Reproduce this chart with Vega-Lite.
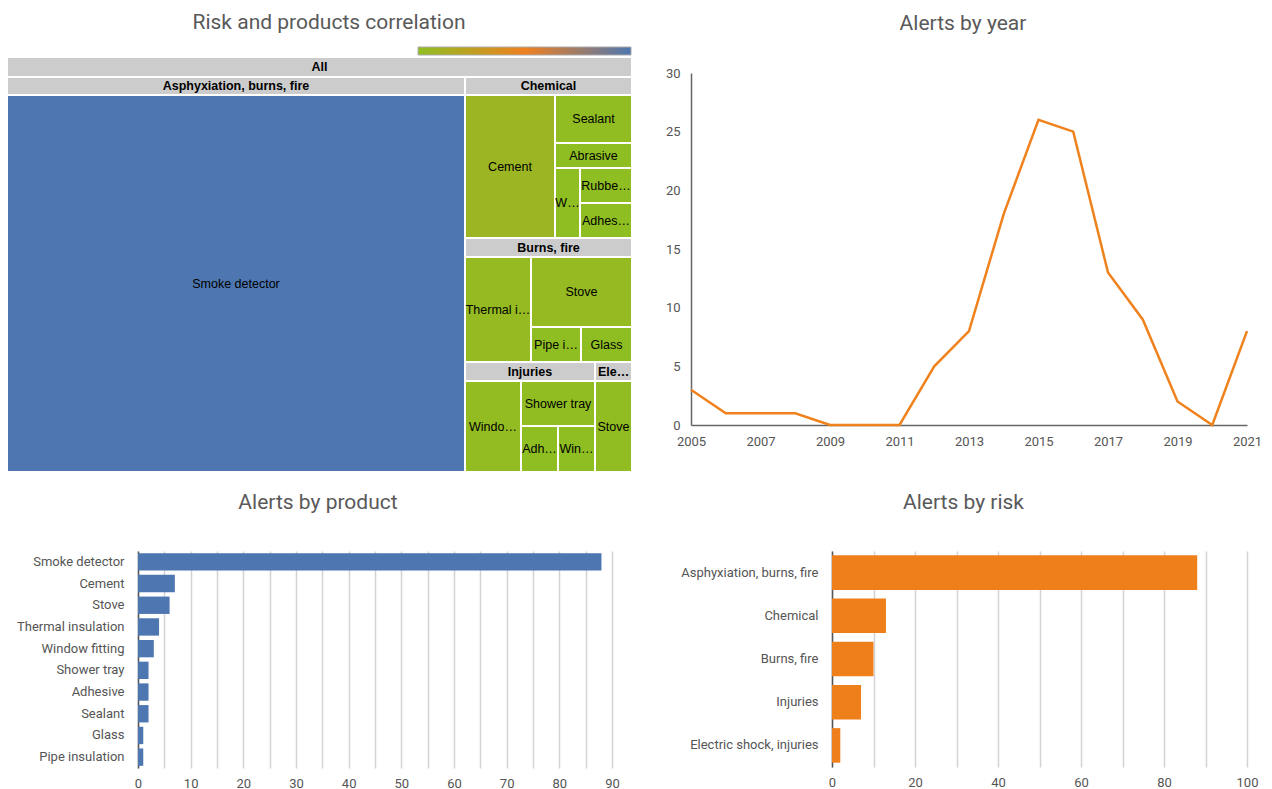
{
  "$schema": "https://vega.github.io/schema/vega-lite/v6.json",
  "background": "white",
  "padding": {"left": 6, "top": 12, "right": 0, "bottom": 0},
  "autosize": {"type": "pad"},
  "config": {
    "view": {"stroke": null},
    "font": "Roboto",
    "title": {"font": "Roboto", "fontSize": 21, "fontWeight": "normal", "color": "#595959", "anchor": "middle"},
    "axis": {"labelFont": "Roboto", "labelFontSize": 13, "labelColor": "#555555", "ticks": false, "title": null, "domainColor": "#666666", "domainWidth": 1.5, "gridColor": "#d3d3d3", "labelFlush": false, "labelOverlap": false}
  },
  "datasets": {
    "treemap": [
      {"kind": "header", "label": "All", "risk": "All", "product": "", "alerts": 120, "x0": 0, "x1": 625, "y0": 0, "y1": 20},
      {"kind": "header", "label": "Asphyxiation, burns, fire", "risk": "Asphyxiation, burns, fire", "product": "", "alerts": 88, "x0": 0, "x1": 458, "y0": 20, "y1": 38},
      {"kind": "leaf", "label": "Smoke detector", "risk": "Asphyxiation, burns, fire", "product": "Smoke detector", "alerts": 88, "x0": 0, "x1": 458, "y0": 38, "y1": 415},
      {"kind": "header", "label": "Chemical", "risk": "Chemical", "product": "", "alerts": 13, "x0": 458, "x1": 625, "y0": 20, "y1": 38},
      {"kind": "leaf", "label": "Cement", "risk": "Chemical", "product": "Cement", "alerts": 7, "x0": 458, "x1": 548, "y0": 38, "y1": 181},
      {"kind": "leaf", "label": "Sealant", "risk": "Chemical", "product": "Sealant", "alerts": 2, "x0": 548, "x1": 625, "y0": 38, "y1": 86},
      {"kind": "leaf", "label": "Abrasive", "risk": "Chemical", "product": "Abrasive", "alerts": 1, "x0": 548, "x1": 625, "y0": 86, "y1": 111},
      {"kind": "leaf", "label": "W…", "risk": "Chemical", "product": "Window fitting", "alerts": 1, "x0": 548, "x1": 573, "y0": 111, "y1": 181},
      {"kind": "leaf", "label": "Rubbe…", "risk": "Chemical", "product": "Rubber", "alerts": 1, "x0": 573, "x1": 625, "y0": 111, "y1": 146},
      {"kind": "leaf", "label": "Adhes…", "risk": "Chemical", "product": "Adhesive", "alerts": 1, "x0": 573, "x1": 625, "y0": 146, "y1": 181},
      {"kind": "header", "label": "Burns, fire", "risk": "Burns, fire", "product": "", "alerts": 10, "x0": 458, "x1": 625, "y0": 181, "y1": 200},
      {"kind": "leaf", "label": "Thermal i…", "risk": "Burns, fire", "product": "Thermal insulation", "alerts": 4, "x0": 458, "x1": 524, "y0": 200, "y1": 305},
      {"kind": "leaf", "label": "Stove", "risk": "Burns, fire", "product": "Stove", "alerts": 4, "x0": 524, "x1": 625, "y0": 200, "y1": 270},
      {"kind": "leaf", "label": "Pipe i…", "risk": "Burns, fire", "product": "Pipe insulation", "alerts": 1, "x0": 524, "x1": 574, "y0": 270, "y1": 305},
      {"kind": "leaf", "label": "Glass", "risk": "Burns, fire", "product": "Glass", "alerts": 1, "x0": 574, "x1": 625, "y0": 270, "y1": 305},
      {"kind": "header", "label": "Injuries", "risk": "Injuries", "product": "", "alerts": 7, "x0": 458, "x1": 588, "y0": 305, "y1": 324},
      {"kind": "header", "label": "Ele…", "risk": "Electric shock, injuries", "product": "", "alerts": 2, "x0": 588, "x1": 625, "y0": 305, "y1": 324},
      {"kind": "leaf", "label": "Windo…", "risk": "Injuries", "product": "Window fitting", "alerts": 3, "x0": 458, "x1": 514, "y0": 324, "y1": 415},
      {"kind": "leaf", "label": "Shower tray", "risk": "Injuries", "product": "Shower tray", "alerts": 2, "x0": 514, "x1": 588, "y0": 324, "y1": 369},
      {"kind": "leaf", "label": "Adh…", "risk": "Injuries", "product": "Adhesive", "alerts": 1, "x0": 514, "x1": 551, "y0": 369, "y1": 415},
      {"kind": "leaf", "label": "Win…", "risk": "Injuries", "product": "Window", "alerts": 1, "x0": 551, "x1": 588, "y0": 369, "y1": 415},
      {"kind": "leaf", "label": "Stove", "risk": "Electric shock, injuries", "product": "Stove", "alerts": 2, "x0": 588, "x1": 625, "y0": 324, "y1": 415}
    ],
    "years": [
      {"year": 2005, "alerts": 3}, {"year": 2006, "alerts": 1}, {"year": 2007, "alerts": 1},
      {"year": 2008, "alerts": 1}, {"year": 2009, "alerts": 0}, {"year": 2010, "alerts": 0},
      {"year": 2011, "alerts": 0}, {"year": 2012, "alerts": 5}, {"year": 2013, "alerts": 8},
      {"year": 2014, "alerts": 18}, {"year": 2015, "alerts": 26}, {"year": 2016, "alerts": 25},
      {"year": 2017, "alerts": 13}, {"year": 2018, "alerts": 9}, {"year": 2019, "alerts": 2},
      {"year": 2020, "alerts": 0}, {"year": 2021, "alerts": 8}
    ],
    "products": [
      {"product": "Smoke detector", "alerts": 88},
      {"product": "Cement", "alerts": 7},
      {"product": "Stove", "alerts": 6},
      {"product": "Thermal insulation", "alerts": 4},
      {"product": "Window fitting", "alerts": 3},
      {"product": "Shower tray", "alerts": 2},
      {"product": "Adhesive", "alerts": 2},
      {"product": "Sealant", "alerts": 2},
      {"product": "Glass", "alerts": 1},
      {"product": "Pipe insulation", "alerts": 1}
    ],
    "risks": [
      {"risk": "Asphyxiation, burns, fire", "alerts": 88},
      {"risk": "Chemical", "alerts": 13},
      {"risk": "Burns, fire", "alerts": 10},
      {"risk": "Injuries", "alerts": 7},
      {"risk": "Electric shock, injuries", "alerts": 2}
    ]
  },
  "spacing": 19,
  "vconcat": [
    {
      "spacing": 32,
      "hconcat": [
        {
          "width": 494,
          "height": 399,
          "title": {"text": "Risk and products correlation", "dx": -56, "offset": 23},
          "data": {"name": "treemap"},
          "layer": [
            {
              "transform": [{"filter": "datum.kind === 'header'"}],
              "mark": {"type": "rect", "fill": "#cccccc", "stroke": "white", "strokeWidth": 2},
              "encoding": {
                "x": {"field": "x0", "type": "quantitative", "scale": {"domain": [0, 625], "range": [-131, 494], "nice": false, "zero": false}, "axis": null},
                "x2": {"field": "x1"},
                "y": {"field": "y0", "type": "quantitative", "scale": {"domain": [0, 415], "range": [-16, 399], "nice": false, "zero": false}, "axis": null},
                "y2": {"field": "y1"}
              }
            },
            {
              "transform": [{"filter": "datum.kind === 'leaf'"}],
              "mark": {"type": "rect", "stroke": "white", "strokeWidth": 2},
              "encoding": {
                "x": {"field": "x0", "type": "quantitative", "scale": {"domain": [0, 625], "range": [-131, 494], "nice": false, "zero": false}, "axis": null},
                "x2": {"field": "x1"},
                "y": {"field": "y0", "type": "quantitative", "scale": {"domain": [0, 415], "range": [-16, 399], "nice": false, "zero": false}, "axis": null},
                "y2": {"field": "y1"},
                "color": {
                  "field": "alerts", "type": "quantitative",
                  "scale": {"domain": [1, 44.5, 88], "range": ["#8fbe22", "#ef8020", "#4e77b1"], "interpolate": "rgb"},
                  "legend": {"orient": "none", "legendX": 280, "legendY": -26, "direction": "horizontal", "gradientLength": 213, "gradientThickness": 8, "labelExpr": "''", "labelOpacity": 0, "labelFontSize": 1, "title": null, "gradientStrokeColor": "#aaaaaa", "gradientStrokeWidth": 1}
                }
              }
            },
            {
              "transform": [
                {"filter": "datum.kind === 'header'"},
                {"calculate": "(datum.x0 + datum.x1) / 2", "as": "cx"},
                {"calculate": "(datum.y0 + datum.y1) / 2", "as": "cy"}
              ],
              "mark": {"type": "text", "font": "Liberation Sans", "fontSize": 12.5, "fontWeight": "bold", "color": "#000000", "baseline": "middle", "align": "center"},
              "encoding": {
                "x": {"field": "cx", "type": "quantitative", "scale": {"domain": [0, 625], "range": [-131, 494], "nice": false, "zero": false}, "axis": null},
                "y": {"field": "cy", "type": "quantitative", "scale": {"domain": [0, 415], "range": [-16, 399], "nice": false, "zero": false}, "axis": null},
                "text": {"field": "label"}
              }
            },
            {
              "transform": [
                {"filter": "datum.kind === 'leaf'"},
                {"calculate": "(datum.x0 + datum.x1) / 2", "as": "cx"},
                {"calculate": "(datum.y0 + datum.y1) / 2", "as": "cy"}
              ],
              "mark": {"type": "text", "font": "Liberation Sans", "fontSize": 12.5, "color": "#000000", "baseline": "middle", "align": "center"},
              "encoding": {
                "x": {"field": "cx", "type": "quantitative", "scale": {"domain": [0, 625], "range": [-131, 494], "nice": false, "zero": false}, "axis": null},
                "y": {"field": "cy", "type": "quantitative", "scale": {"domain": [0, 415], "range": [-16, 399], "nice": false, "zero": false}, "axis": null},
                "text": {"field": "label"}
              }
            }
          ]
        },
        {
          "width": 556,
          "height": 352,
          "title": {"text": "Alerts by year", "dx": -6, "offset": 33},
          "data": {"name": "years"},
          "mark": {"type": "line", "color": "#f0821e", "strokeWidth": 2.5},
          "encoding": {
            "x": {"field": "year", "type": "quantitative", "scale": {"domain": [2005, 2021], "nice": false, "zero": false},
                  "axis": {"values": [2005, 2007, 2009, 2011, 2013, 2015, 2017, 2019, 2021], "format": "d", "grid": false, "labelPadding": 10}},
            "y": {"field": "alerts", "type": "quantitative", "scale": {"domain": [0, 30], "nice": false},
                  "axis": {"values": [0, 5, 10, 15, 20, 25, 30], "grid": false, "labelPadding": 11}}
          }
        }
      ]
    },
    {
      "spacing": 60,
      "hconcat": [
        {
          "width": 474,
          "height": 217,
          "title": {"text": "Alerts by product", "dx": -57, "offset": 38},
          "data": {"name": "products"},
          "mark": {"type": "bar", "color": "#4e76b0"},
          "encoding": {
            "y": {"field": "product", "type": "nominal", "sort": null, "scale": {"paddingInner": 0.2, "paddingOuter": 0.1},
                  "axis": {"labelPadding": 14, "domainColor": "#555555"}},
            "x": {"field": "alerts", "type": "quantitative", "scale": {"domain": [0, 90], "nice": false},
                  "axis": {"values": [0, 5, 10, 15, 20, 25, 30, 35, 40, 45, 50, 55, 60, 65, 70, 75, 80, 85, 90], "labelExpr": "datum.value % 10 === 0 ? datum.label : ''", "domain": false, "grid": true, "gridWidth": 1.5, "labelPadding": 9}}
          }
        },
        {
          "width": 415,
          "height": 216,
          "title": {"text": "Alerts by risk", "dx": -76, "offset": 38},
          "data": {"name": "risks"},
          "mark": {"type": "bar", "color": "#ef7f1b"},
          "encoding": {
            "y": {"field": "risk", "type": "nominal", "sort": null, "scale": {"paddingInner": 0.2, "paddingOuter": 0.1},
                  "axis": {"labelPadding": 14, "domainColor": "#555555"}},
            "x": {"field": "alerts", "type": "quantitative", "scale": {"domain": [0, 100], "nice": false},
                  "axis": {"values": [0, 10, 20, 30, 40, 50, 60, 70, 80, 90, 100], "labelExpr": "datum.value % 20 === 0 ? datum.label : ''", "domain": false, "grid": true, "gridWidth": 1.5, "labelPadding": 9}}
          }
        }
      ]
    }
  ]
}
